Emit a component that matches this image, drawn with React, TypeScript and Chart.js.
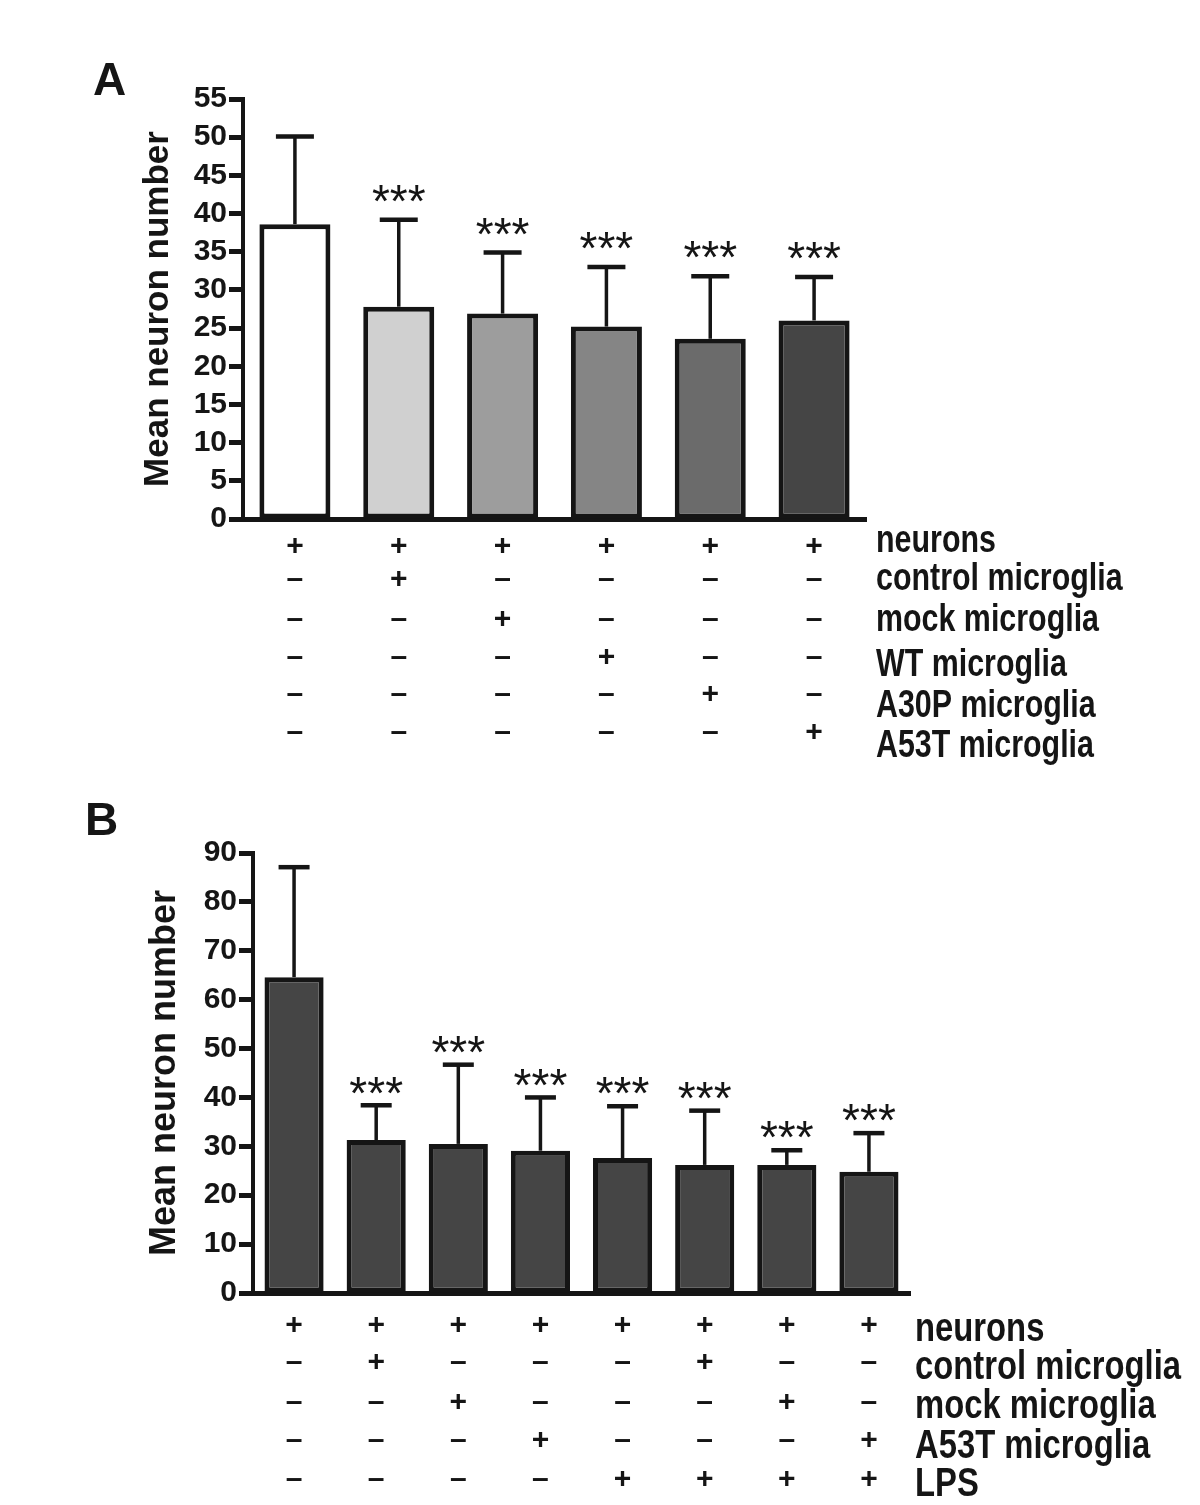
import React, { useEffect, useRef } from 'react';
import { Chart, registerables } from 'chart.js';

Chart.register(...registerables);

// ---------- Panel A data ----------
const categoriesA = ['neurons', 'control microglia', 'mock microglia', 'WT microglia', 'A30P microglia', 'A53T microglia'];
const meansA = [38.6, 27.8, 26.9, 25.2, 23.6, 26.0];
const errorsA = [11.5, 11.4, 8.0, 7.8, 8.2, 5.7];
const sigA = ['', '***', '***', '***', '***', '***'];
const colorsA = ['#ffffff', '#d0d0d0', '#9d9d9d', '#858585', '#6b6b6b', '#454545'];
const yMaxA = 55;
const yStepA = 5;
const conditionLabelsA = ['neurons', 'control microglia', 'mock microglia', 'WT microglia', 'A30P microglia', 'A53T microglia'];
const conditionSignsA = [
  ['+', '+', '+', '+', '+', '+'],
  ['–', '+', '–', '–', '–', '–'],
  ['–', '–', '+', '–', '–', '–'],
  ['–', '–', '–', '+', '–', '–'],
  ['–', '–', '–', '–', '+', '–'],
  ['–', '–', '–', '–', '–', '+'],
];

// ---------- Panel B data ----------
const categoriesB = ['neurons', 'control', 'mock', 'A53T', 'LPS', 'control+LPS', 'mock+LPS', 'A53T+LPS'];
const meansB = [64.6, 31.3, 30.5, 29.1, 27.6, 26.2, 26.2, 24.8];
const errorsB = [22.5, 7.1, 16.2, 10.9, 10.6, 11.1, 3.0, 7.9];
const sigB = ['', '***', '***', '***', '***', '***', '***', '***'];
const colorsB = ['#454545', '#454545', '#454545', '#454545', '#454545', '#454545', '#454545', '#454545'];
const yMaxB = 90;
const yStepB = 10;
const conditionLabelsB = ['neurons', 'control microglia', 'mock microglia', 'A53T microglia', 'LPS'];
const conditionSignsB = [
  ['+', '+', '+', '+', '+', '+', '+', '+'],
  ['–', '+', '–', '–', '–', '+', '–', '–'],
  ['–', '–', '+', '–', '–', '–', '+', '–'],
  ['–', '–', '–', '+', '–', '–', '–', '+'],
  ['–', '–', '–', '–', '+', '+', '+', '+'],
];

const FONT = '"Liberation Sans", Arial, Helvetica, sans-serif';
const INK = '#151515';

type PanelSpec = {
  letter: string;
  letterX: number;
  letterY: number;
  width: number;
  height: number;
  top: number;
  area: { left: number; top: number; right: number; bottom: number };
  categories: string[];
  means: number[];
  errors: number[];
  sig: string[];
  colors: string[];
  yMax: number;
  yStep: number;
  barPct: number;
  capHalf: number;
  starSize: number;
  starGap: number;
  titleSize: number;
  titlePad: number;
  labels: string[];
  signs: string[][];
  signRowsY: number[];
  labelRowsY: number[];
  labelX: number;
  labelSize: number;
  signSize: number;
};

const panelA: PanelSpec = {
  letter: 'A', letterX: 93, letterY: 95,
  width: 1200, height: 780, top: 0,
  area: { left: 243, top: 99, right: 866, bottom: 519 },
  categories: categoriesA, means: meansA, errors: errorsA, sig: sigA, colors: colorsA,
  yMax: yMaxA, yStep: yStepA, barPct: 0.684, capHalf: 19,
  starSize: 46, starGap: 23, titleSize: 35, titlePad: 137,
  labels: conditionLabelsA, signs: conditionSignsA,
  signRowsY: [547, 580, 620, 658, 695, 733],
  labelRowsY: [552, 590, 631, 676, 717, 757],
  labelX: 876, labelSize: 38, signSize: 30,
};

const panelB: PanelSpec = {
  letter: 'B', letterX: 85, letterY: 55,
  width: 1200, height: 725, top: 780,
  area: { left: 253, top: 73, right: 910, bottom: 513 },
  categories: categoriesB, means: meansB, errors: errorsB, sig: sigB, colors: colorsB,
  yMax: yMaxB, yStep: yStepB, barPct: 0.72, capHalf: 15.5,
  starSize: 46, starGap: 17, titleSize: 36, titlePad: 143,
  labels: conditionLabelsB, signs: conditionSignsB,
  signRowsY: [546, 583, 623, 661, 700],
  labelRowsY: [561, 599, 638, 678, 716],
  labelX: 915, labelSize: 41, signSize: 30,
};

function makeOverlay(p: PanelSpec) {
  return {
    id: 'overlay' + p.letter,
    afterDatasetsDraw(chart: any) {
      const ctx = chart.ctx as CanvasRenderingContext2D;
      const xs = chart.scales.x;
      const ys = chart.scales.y;
      ctx.save();
      ctx.strokeStyle = INK;
      ctx.fillStyle = INK;
      ctx.lineCap = 'butt';
      p.means.forEach((m, i) => {
        const cx = xs.getPixelForValue(i);
        const yTop = ys.getPixelForValue(m);
        const yErr = ys.getPixelForValue(m + p.errors[i]);
        ctx.lineWidth = 3.5;
        ctx.beginPath();
        ctx.moveTo(cx, yTop);
        ctx.lineTo(cx, yErr);
        ctx.stroke();
        ctx.lineWidth = 4.5;
        ctx.beginPath();
        ctx.moveTo(cx - p.capHalf, yErr);
        ctx.lineTo(cx + p.capHalf, yErr);
        ctx.stroke();
        if (p.sig[i]) {
          ctx.font = `${p.starSize}px ${FONT}`;
          ctx.textAlign = 'center';
          ctx.textBaseline = 'alphabetic';
          ctx.fillText(p.sig[i], cx, yErr - p.starGap + 0.44 * p.starSize);
        }
      });
      ctx.restore();
    },
    afterDraw(chart: any) {
      const ctx = chart.ctx as CanvasRenderingContext2D;
      const xs = chart.scales.x;
      ctx.save();
      ctx.fillStyle = INK;
      // panel letter
      ctx.font = `bold 46px ${FONT}`;
      ctx.textAlign = 'left';
      ctx.textBaseline = 'alphabetic';
      ctx.fillText(p.letter, p.letterX, p.letterY);
      // sign table
      ctx.font = `bold ${p.signSize}px ${FONT}`;
      ctx.textAlign = 'center';
      ctx.textBaseline = 'middle';
      p.signs.forEach((row, r) => {
        row.forEach((s, i) => {
          ctx.fillText(s, xs.getPixelForValue(i), p.signRowsY[r]);
        });
      });
      // condition labels (condensed)
      ctx.font = `bold ${p.labelSize}px ${FONT}`;
      ctx.textAlign = 'left';
      ctx.textBaseline = 'alphabetic';
      p.labels.forEach((lab, r) => {
        ctx.save();
        ctx.translate(p.labelX, p.labelRowsY[r]);
        ctx.scale(0.8, 1);
        ctx.fillText(lab, 0, 0);
        ctx.restore();
      });
      ctx.restore();
    },
  };
}

function Panel({ p }: { p: PanelSpec }) {
  const ref = useRef<HTMLCanvasElement | null>(null);
  useEffect(() => {
    if (!ref.current) return;
    const chart = new Chart(ref.current, {
      type: 'bar',
      data: {
        labels: p.categories,
        datasets: [
          {
            data: p.means,
            backgroundColor: p.colors,
            borderColor: INK,
            borderWidth: 5,
            borderSkipped: false,
            barPercentage: p.barPct,
            categoryPercentage: 1,
          },
        ],
      },
      options: {
        responsive: false,
        maintainAspectRatio: false,
        animation: false,
        devicePixelRatio: 1,
        layout: {
          padding: {
            left: 0,
            top: p.area.top,
            right: p.width - p.area.right,
            bottom: p.height - p.area.bottom,
          },
        },
        plugins: {
          legend: { display: false },
          tooltip: { enabled: false },
          title: { display: false },
        },
        scales: {
          x: {
            type: 'category',
            grid: { display: false },
            ticks: { display: false },
            border: { display: true, color: INK, width: 5 },
            afterFit: (s: any) => {
              s.height = 0;
            },
          },
          y: {
            min: 0,
            max: p.yMax,
            ticks: {
              stepSize: p.yStep,
              color: INK,
              font: { family: FONT, weight: 'bold', size: 30 },
              padding: 2,
              autoSkip: false,
            },
            grid: {
              display: true,
              drawOnChartArea: false,
              drawTicks: true,
              tickLength: 14,
              tickWidth: 5,
              tickColor: INK,
            },
            border: { display: true, color: INK, width: 4 },
            title: {
              display: true,
              text: 'Mean neuron number',
              color: INK,
              font: { family: FONT, weight: 'bold', size: p.titleSize },
              padding: { top: p.titlePad, bottom: 0 },
            },
            afterFit: (s: any) => {
              s.width = p.area.left;
            },
          },
        },
      } as any,
      plugins: [makeOverlay(p)],
    });
    return () => chart.destroy();
  }, [p]);
  return (
    <canvas
      ref={ref}
      width={p.width}
      height={p.height}
      style={{ position: 'absolute', left: 0, top: p.top, width: p.width, height: p.height, display: 'block' }}
    />
  );
}

export default function App() {
  return (
    <div style={{ position: 'absolute', left: 0, top: 0, width: 1200, height: 1505, background: '#ffffff', overflow: 'hidden' }}>
      <Panel p={panelA} />
      <Panel p={panelB} />
    </div>
  );
}
